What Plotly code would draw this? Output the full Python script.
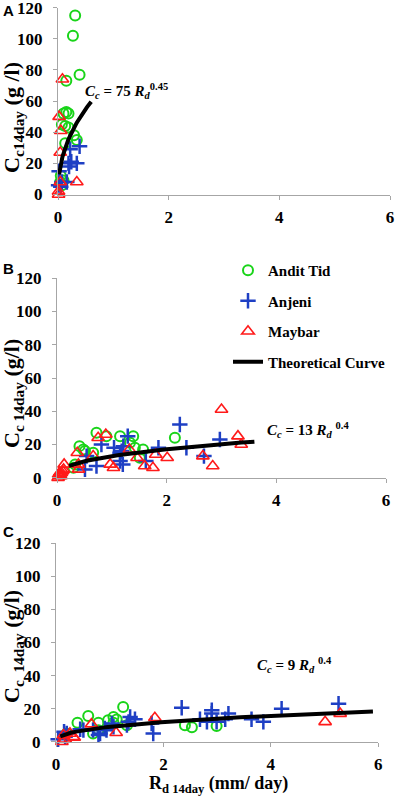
import plotly.graph_objects as go

W, H = 397, 796

# ---------------- data ----------------
# Panel A
A_andit_x = [0.31, 0.27, 0.39, 0.15, 0.10, 0.15, 0.19, 0.07, 0.13, 0.19, 0.29, 0.34, 0.13, 0.04, 0.07, 0.10, 0.05]
A_andit_y = [115, 102, 77, 73, 52, 53, 52, 45, 44, 43, 38, 35, 33, 8, 6, 9, 12]
A_anjeni_x = [0.39, 0.22, 0.19, 0.24, 0.34, 0.20, 0.02, 0.07, 0.16, 0.01, 0.05]
A_anjeni_y = [31, 29, 20, 21, 20, 18, 15, 8, 8, 6, 5]
A_maybar_x = [0.08, 0.02, 0.05, 0.04, 0.34, 0.04, 0.01, 0.01]
A_maybar_y = [74, 50, 41, 27, 8, 8, 2, 0]

# Panel B
B_andit_x = [0.72, 0.90, 1.15, 1.39, 1.33, 1.57, 1.51, 2.15, 0.41, 0.48, 0.51, 0.66, 0.33, 0.30, 1.42]
B_andit_y = [27, 25, 25, 25, 21, 17, 12, 24, 19, 17, 16, 15, 8, 6, 18]
B_anjeni_x = [2.24, 1.29, 0.81, 1.04, 1.15, 1.18, 1.21, 1.85, 2.36, 2.97, 2.68, 0.54, 0.72, 0.51, 1.15, 1.20, 1.62]
B_anjeni_y = [32, 25, 20, 18, 15, 16, 19, 18, 18, 23, 13, 13, 7, 5, 10, 8, 10]
B_maybar_x = [3.00, 0.89, 0.75, 0.37, 0.66, 1.32, 1.46, 1.80, 2.01, 2.66, 2.84, 0.97, 1.03, 1.60, 1.75,
              0.39, 0.39, 0.13, 3.30, 3.36, 0.02, 0.04, 0.06, 0.08, 0.10, 0.03, 0.12, 0.07, 0.05]
B_maybar_y = [41, 26, 24, 15, 13, 17, 12, 14, 12, 13, 7, 8, 6, 7, 6,
              5, 8, 8, 25, 20, 0, 1, 2, 3, 4, 2, 5, 1, 3]

# Panel C
C_andit_x = [1.25, 0.60, 0.40, 0.79, 0.97, 1.07, 1.13, 1.07, 0.69, 0.79, 1.32, 2.40, 2.53, 2.99, 0.20]
C_andit_y = [21, 15.5, 11.5, 11.5, 13, 15, 13.5, 11.5, 5, 7, 10, 10, 8.7, 9.5, 5]
C_anjeni_x = [2.34, 4.20, 5.26, 2.90, 2.90, 3.21, 2.68, 2.81, 3.15, 3.64, 3.86, 1.38, 1.47, 1.35, 1.81, 1.78,
              1.32, 1.07, 1.04, 0.91, 0.94, 0.82, 0.79, 0.69, 0.51, 0.45, 0.15, 0.20, 0.04, 0.17, 2.99]
C_anjeni_y = [20.5, 20, 23, 19, 17, 17, 13.6, 12, 13.6, 13.6, 12, 15, 13.6, 12, 5, 11,
              10, 9, 11, 8, 7, 5, 4, 7, 7, 7.5, 6, 5, 1.5, 3, 12]
C_maybar_x = [5.29, 5.01, 1.84, 0.66, 1.12, 0.14, 0.26, 0.32, 0.11, 0.17, 0.34]
C_maybar_y = [17, 12, 14.5, 10.6, 5.4, 4, 5, 3, 0, 1.5, 2.5]

# Theoretical curves Cc = a * Rd^b (coefficients printed on the chart)
curve_a = [75, 13, 9]
curve_b = [0.45, 0.4, 0.4]
curve_xmin = [0.02, 0.22, 0.08]
curve_xmax = [0.60, 3.60, 5.90]

x_ticks = [0, 2, 4, 6]
y_ticks = [0, 20, 40, 60, 80, 100, 120]

# ---------------- styling ----------------
GREEN = "#19d419"
BLUE = "#1e3fc4"
RED = "#ff1a1a"
SERIF = "Liberation Serif"
SANS = "Liberation Sans"

def px_x(p):
    return p / W

def px_y(p):
    return 1 - p / H

panels = [
    dict(ax="", x0=58, x6=390, y0=194.5, y120=7.7,
         data=(A_andit_x, A_andit_y, A_anjeni_x, A_anjeni_y, A_maybar_x, A_maybar_y)),
    dict(ax="2", x0=57, x6=386, y0=477.7, y120=278.3,
         data=(B_andit_x, B_andit_y, B_anjeni_x, B_anjeni_y, B_maybar_x, B_maybar_y)),
    dict(ax="3", x0=56, x6=378.3, y0=741.7, y120=543.3,
         data=(C_andit_x, C_andit_y, C_anjeni_x, C_anjeni_y, C_maybar_x, C_maybar_y)),
]

fig = go.Figure()
layout = {}
for i, p in enumerate(panels):
    xa, ya = "x" + p["ax"], "y" + p["ax"]
    ax, ay, bx, by, cx, cy = p["data"]
    show = (i == 1)
    fig.add_trace(go.Scatter(x=ax, y=ay, mode="markers", name="<b>Andit Tid</b>", xaxis=xa, yaxis=ya,
                             showlegend=show, legendgroup="g1", cliponaxis=False,
                             marker=dict(symbol="circle-open", size=10, color=GREEN, line=dict(width=2, color=GREEN))))
    fig.add_trace(go.Scatter(x=bx, y=by, mode="markers", name="<b>Anjeni</b>", xaxis=xa, yaxis=ya,
                             showlegend=show, legendgroup="g2", cliponaxis=False,
                             marker=dict(symbol="cross-thin-open", size=11, color=BLUE, line=dict(width=2.5, color=BLUE))))
    fig.add_trace(go.Scatter(x=cx, y=cy, mode="markers", name="<b>Maybar</b>", xaxis=xa, yaxis=ya,
                             showlegend=show, legendgroup="g3", cliponaxis=False,
                             marker=dict(symbol="triangle-up-open", size=11, color=RED, line=dict(width=1.6, color=RED))))
    n = 60
    xs = [curve_xmin[i] + (curve_xmax[i] - curve_xmin[i]) * k / (n - 1) for k in range(n)]
    ys = [curve_a[i] * v ** curve_b[i] for v in xs]
    fig.add_trace(go.Scatter(x=xs, y=ys, mode="lines", name="<b>Theoretical Curve</b>", xaxis=xa, yaxis=ya,
                             showlegend=show, legendgroup="g4", cliponaxis=False,
                             line=dict(color="black", width=4)))

    axis_common = dict(showgrid=False, zeroline=False, showline=True, linecolor="#a6a6a6", linewidth=1,
                       ticks="outside", ticklen=4, tickcolor="#a6a6a6", tickwidth=1,
                       ticklabeloverflow="allow", automargin=False,
                       tickfont=dict(family=SERIF, size=17, color="black"))
    layout["xaxis" + p["ax"]] = dict(axis_common, domain=[px_x(p["x0"]), px_x(p["x6"])], range=[0, 6],
                                     tickvals=x_ticks, ticktext=["<b>%d</b>" % v for v in x_ticks],
                                     anchor=ya, ticklabelstandoff=3)
    layout["yaxis" + p["ax"]] = dict(axis_common, domain=[px_y(p["y0"]), px_y(p["y120"])], range=[0, 120],
                                     tickvals=y_ticks, ticktext=["<b>%d</b>" % v for v in y_ticks],
                                     anchor=xa, ticklabelstandoff=7)

fig.update_layout(**layout)

tfont = dict(family=SERIF, size=22, color="black")
efont = dict(family=SERIF, size=15, color="black")
lfont = dict(family=SANS, size=15, color="black")
annotations = [
    dict(text="<b>A</b>", x=px_x(8), y=px_y(10), font=lfont),
    dict(text="<b>B</b>", x=px_x(8), y=px_y(268), font=lfont),
    dict(text="<b>C</b>", x=px_x(8), y=px_y(531), font=lfont),
    dict(text="<b>C<sub>c14day</sub> (g /l)</b>", x=px_x(13), y=px_y(118), textangle=-90, font=tfont),
    dict(text="<b>C<sub>c 14day</sub> (g/l)</b>", x=px_x(13), y=px_y(394), textangle=-90, font=tfont),
    dict(text="<b>C<sub>c  14day</sub> (g/l)</b>", x=px_x(13), y=px_y(647), textangle=-90, font=tfont),
    dict(text="<b>R<sub>d 14day</sub> (mm/ day)</b>", x=px_x(218), y=px_y(784), font=dict(family=SERIF, size=18, color="black")),
    dict(text="<b><i>C<sub>c</sub></i> = 75 <i>R<sub>d</sub></i><sup>0.45</sup></b>", x=px_x(83), y=px_y(91), xanchor="left", font=efont),
    dict(text="<b><i>C<sub>c</sub></i> = 13 <i>R<sub>d</sub></i> <sup>0.4</sup></b>", x=px_x(265), y=px_y(430), xanchor="left", font=efont),
    dict(text="<b><i>C<sub>c</sub></i> = 9 <i>R<sub>d</sub></i> <sup>0.4</sup></b>", x=px_x(255), y=px_y(665), xanchor="left", font=efont),
]
for a in annotations:
    a.setdefault("xanchor", "center")
    a.update(xref="paper", yref="paper", yanchor="middle", showarrow=False)

fig.update_layout(
    template="none",
    width=W, height=H, margin=dict(l=0, r=0, t=0, b=0, autoexpand=False),
    paper_bgcolor="white", plot_bgcolor="white",
    font=dict(family=SERIF, color="black"),
    annotations=annotations,
    legend=dict(x=px_x(228), y=px_y(254), xanchor="left", yanchor="top", bgcolor="rgba(0,0,0,0)",
                font=dict(family=SERIF, size=15, color="black"), tracegroupgap=8,
                itemwidth=30),
)

fig.write_html("out.html",
               config={"displayModeBar": False},
               post_script="document.body.style.margin='0';document.body.style.overflow='hidden';")
